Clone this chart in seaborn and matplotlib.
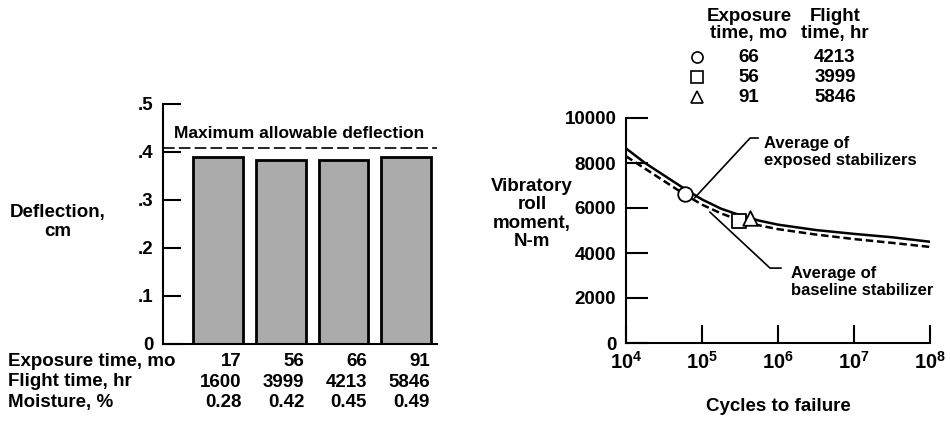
import numpy as np
import pandas as pd
import matplotlib
matplotlib.use("Agg")
import matplotlib.pyplot as plt
import seaborn as sns

# left panel data
exposure_mo = [17, 56, 66, 91]
flight_hr = [1600, 3999, 4213, 5846]
moisture = ["0.28", "0.42", "0.45", "0.49"]
deflection = [0.390, 0.383, 0.383, 0.390]
max_deflection = 0.408

# right panel data
cycles = [1e4, 1.78e4, 3.16e4, 5.62e4, 1e5, 1.78e5, 3.16e5, 5.62e5,
          1e6, 3.16e6, 1e7, 3.16e7, 1e8]
exposed_avg = [8650, 8000, 7450, 6900, 6380, 5970, 5680, 5440,
               5260, 5020, 4850, 4700, 4500]
baseline_avg = [8300, 7750, 7200, 6650, 6150, 5760, 5450, 5230,
                5060, 4820, 4620, 4450, 4270]

pt_cycles = [6.0e4, 3.1e5, 4.3e5]
pt_moment = [6620, 5420, 5550]
pt_exposure = [66, 56, 91]
pt_flight = [4213, 3999, 5846]
pt_markers = ["o", "s", "^"]

sns.set_style("white")
plt.rcParams["font.family"] = ["Liberation Sans", "DejaVu Sans"]
plt.rcParams["font.weight"] = "bold"
plt.rcParams["text.color"] = "black"
plt.rcParams["xtick.color"] = "black"
plt.rcParams["ytick.color"] = "black"
plt.rcParams["axes.labelcolor"] = "black"
plt.rcParams["mathtext.fontset"] = "custom"
plt.rcParams["mathtext.rm"] = "Liberation Sans:bold"
plt.rcParams["mathtext.bf"] = "Liberation Sans:bold"

FS = 13.5
fig = plt.figure(figsize=(9.5, 4.21), dpi=100)

# ---- left: deflection bars ----
ax1 = fig.add_axes([163 / 950, 1 - 344 / 421, 274 / 950, 240 / 421])
df = pd.DataFrame({"pos": range(4), "defl": deflection})
sns.barplot(data=df, x="pos", y="defl", ax=ax1, color="#ababab", width=0.79,
            edgecolor="black", linewidth=2, saturation=1)
ax1.set_xlim(-0.877, 3.49)
ax1.set_ylim(0, 0.5)
ax1.axhline(max_deflection, color="black", lw=1.2, dashes=(7, 2.5))
ax1.text(1.3, 0.423, "Maximum allowable deflection", ha="center", va="bottom",
         fontsize=12.5)
ax1.set_yticks([0, 0.1, 0.2, 0.3, 0.4, 0.5])
ax1.set_yticklabels(["0", ".1", ".2", ".3", ".4", ".5"], fontsize=FS)
ax1.set_xticks([])
ax1.set_xlabel("")
ax1.set_ylabel("")
ax1.tick_params(axis="y", direction="in", length=13, width=1.5, pad=7, left=True)
for s in ["top", "right"]:
    ax1.spines[s].set_visible(False)
for s in ["left", "bottom"]:
    ax1.spines[s].set_linewidth(1.5)
    ax1.spines[s].set_color("black")

fig.text(58 / 950, 1 - 222 / 421, "Deflection,\ncm", ha="center", va="center",
         fontsize=FS, linespacing=1.1)

rows = [("Exposure time, mo", [str(v) for v in exposure_mo]),
        ("Flight time, hr", [str(v) for v in flight_hr]),
        ("Moisture, %", moisture)]
for i, (lab, vals) in enumerate(rows):
    y = 1 - (362 + 20 * i) / 421
    fig.text(8 / 950, y, lab, ha="left", va="center", fontsize=FS)
    for j, v in enumerate(vals):
        ax1.text(j + 0.375, -0.0375 - 0.0417 * i, v, ha="right", va="center",
                 fontsize=FS, clip_on=False)

# ---- right: vibratory roll moment ----
ax2 = fig.add_axes([626 / 950, 1 - 343 / 421, 304 / 950, 225 / 421])
lines = pd.DataFrame({"cycles": cycles + cycles,
                      "moment": exposed_avg + baseline_avg,
                      "curve": ["exposed"] * len(cycles) + ["baseline"] * len(cycles)})
sns.lineplot(data=lines, x="cycles", y="moment", style="curve", ax=ax2,
             color="black", lw=1.8, legend=False,
             dashes={"exposed": "", "baseline": (3, 1.5)})
for c, m, mk in zip(pt_cycles, pt_moment, pt_markers):
    sns.scatterplot(x=[c], y=[m], marker=mk, s=110, facecolor="white",
                    edgecolor="black", linewidth=1.3, ax=ax2, zorder=5)
ax2.set_xscale("log")
ax2.set_xlim(1e4, 1e8)
ax2.set_ylim(0, 10000)
ax2.set_xticks([1e4, 1e5, 1e6, 1e7, 1e8])
ax2.set_xticklabels([r"$\mathbf{10^{%d}}$" % k for k in range(4, 9)], fontsize=FS + 1)
ax2.xaxis.set_minor_locator(matplotlib.ticker.NullLocator())
ax2.set_yticks(range(0, 10001, 2000))
ax2.set_yticklabels([str(v) for v in range(0, 10001, 2000)], fontsize=FS)
ax2.tick_params(axis="y", direction="in", length=16, width=1.5, pad=7, left=True)
ax2.tick_params(axis="x", direction="in", length=13, width=1.5, pad=6, bottom=True)
ax2.set_xlabel("Cycles to failure", fontsize=FS, fontweight="bold", labelpad=18)
ax2.set_ylabel("")
for s in ["top", "right"]:
    ax2.spines[s].set_visible(False)
for s in ["left", "bottom"]:
    ax2.spines[s].set_linewidth(1.5)
    ax2.spines[s].set_color("black")

fig.text(532 / 950, 1 - 214 / 421, "Vibratory\nroll\nmoment,\nN-m", ha="center",
         va="center", fontsize=FS, linespacing=1.08)

# leader lines and labels
ax2.plot([8.0e4, 4.3e5, 5.5e5], [6450, 9110, 9110], color="black", lw=1.2)
ax2.text(6.6e5, 8490, "Average of\nexposed stabilizers", ha="left", va="center",
         fontsize=12, linespacing=1.1)
ax2.plot([1.27e5, 7.85e5, 1.1e6], [5820, 3330, 3330], color="black", lw=1.2)
ax2.text(1.5e6, 2710, "Average of\nbaseline stabilizer", ha="left", va="center",
         fontsize=12, linespacing=1.1)

# marker key table
fig.text(749 / 950, 1 - 25 / 421, "Exposure\ntime, mo", ha="center", va="center",
         fontsize=FS, linespacing=1.0)
fig.text(835 / 950, 1 - 25 / 421, "Flight\ntime, hr", ha="center", va="center",
         fontsize=FS, linespacing=1.0)
for i, (mk, e, f) in enumerate(zip(pt_markers, pt_exposure, pt_flight)):
    y = 1 - (57 + 20 * i) / 421
    fig.lines.append(matplotlib.lines.Line2D([697 / 950], [y], marker=mk, ms=8,
                     mfc="white", mec="black", mew=1.2, transform=fig.transFigure))
    fig.text(749 / 950, y, str(e), ha="center", va="center", fontsize=FS)
    fig.text(835 / 950, y, str(f), ha="center", va="center", fontsize=FS)

fig.savefig("out.png", dpi=100)
